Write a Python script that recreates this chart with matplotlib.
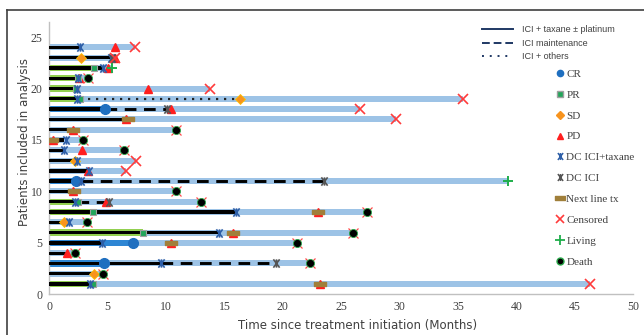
import matplotlib
matplotlib.use('Agg')
import matplotlib.pyplot as plt
import numpy as np
from matplotlib.path import Path
from matplotlib.lines import Line2D

# one row per patient (1 = bottom row)
patient = np.arange(1, 25)
follow_up = [46.3, 4.57, 22.3, 2.2, 21.2, 26.0, 3.2, 27.2, 13.0, 10.85, 39.3, 6.54,
             7.42, 6.4, 2.9, 10.85, 29.7, 26.6, 35.4, 13.8, 3.35, 5.4, 5.6, 7.3]
taxane_end = [3.48, 3.8, 9.6, 1.5, 4.5, 14.5, 1.65, 16.0, 2.2, 1.9, 2.6, 3.4,
              2.4, 1.28, 1.3, 1.9, 6.2, 4.8, 2.4, 2.3, 2.5, 4.6, 5.25, 2.6]

# ICI maintenance (dashed) and ICI + others (dotted) segments
maint_pt = [3, 9, 11, 18]
maint_start = [9.6, 2.4, 2.7, 4.8]
maint_end = [19.4, 4.9, 23.5, 10.05]
others_pt = [19]
others_start = [2.6]
others_end = [16.3]

# events: patient row, time in months
cr_pt = [3, 5, 11, 18]
cr_t = [4.68, 7.14, 2.26, 4.8]
pr_pt = [1, 6, 8, 9, 19, 20, 21, 22]
pr_t = [3.77, 8.05, 3.77, 2.43, 2.6, 2.3, 2.45, 3.8]
sd_pt = [2, 7, 13, 19, 23]
sd_t = [3.85, 1.26, 2.17, 16.3, 2.7]
pd_pt = [1, 4, 5, 6, 8, 9, 10, 12, 14, 15, 16, 17, 18, 20, 21, 22, 23, 24]
pd_t = [23.2, 1.49, 10.4, 15.7, 23.0, 4.85, 2.05, 3.34, 2.83, 0.34, 2.0, 6.6,
        10.4, 8.45, 2.55, 5.05, 5.6, 5.6]
dct_pt = [1, 3, 5, 6, 7, 8, 9, 11, 12, 13, 14, 15, 19, 20, 21, 22, 23, 24]
dct_t = [3.48, 9.6, 4.54, 14.5, 1.65, 16.0, 2.2, 2.7, 3.42, 2.4, 1.28, 1.4,
         2.4, 2.4, 2.5, 4.6, 5.3, 2.6]
dci_pt = [3, 9, 11, 18, 23]
dci_t = [19.4, 5.14, 23.5, 10.05, 5.4]
nxt_pt = [1, 5, 6, 8, 10, 15, 16, 17]
nxt_t = [23.2, 10.4, 15.7, 23.0, 2.1, 0.26, 2.0, 6.7]
cens_pt = [1, 12, 13, 17, 18, 19, 20, 23, 24]
cens_t = [46.3, 6.54, 7.42, 29.7, 26.6, 35.4, 13.8, 5.6, 7.3]
live_pt = [11, 22]
live_t = [39.3, 5.4]
death_pt = [2, 3, 4, 5, 6, 7, 8, 9, 10, 14, 15, 16, 21]
death_t = [4.57, 22.3, 2.2, 21.2, 26.0, 3.2, 27.2, 13.0, 10.85, 6.4, 2.9, 10.85, 3.35]

LIGHT = '#9dc3e6'
GREEN = '#92d050'
BLUE = '#2e86d4'
NAVY = '#1f3864'

ast = Path([(0, -1), (0, 1), (-0.75, -1), (0.75, 1), (-0.75, 1), (0.75, -1)],
           [Path.MOVETO, Path.LINETO, Path.MOVETO, Path.LINETO, Path.MOVETO, Path.LINETO])
bar_mk = Path([(-1, -0.35), (1, -0.35), (1, 0.35), (-1, 0.35), (-1, -0.35)],
              [Path.MOVETO, Path.LINETO, Path.LINETO, Path.LINETO, Path.CLOSEPOLY])

fig = plt.figure(figsize=(6.44, 3.35), dpi=100)
ax = fig.add_axes([49.3 / 644, 1 - 294.3 / 335, (633 - 49.3) / 644, (294.3 - 21.7) / 335])

ax.barh(patient, follow_up, height=0.58, color=LIGHT, zorder=1)
# response band under the first-line segment
for p, t in zip(pr_pt, pr_t):
  ax.barh(p, t, height=0.62, color=GREEN, zorder=2)
for p, t in zip(cr_pt, cr_t):
  ax.barh(p, t, height=0.62, color=BLUE, zorder=2)
ax.barh(patient, taxane_end, height=0.32, color='black', zorder=3)
for p, a, b in zip(maint_pt, maint_start, maint_end):
  ax.plot([a, b], [p, p], color='black', lw=2.1, ls=(0, (4, 2.6)), zorder=3,
          dash_capstyle='butt')
for p, a, b in zip(others_pt, others_start, others_end):
  ax.plot([a, b], [p, p], color='#222222', lw=1.6, ls=(0, (1, 2.6)), zorder=3,
          dash_capstyle='butt')

ax.plot(pd_t, pd_pt, ls='none', marker='^', ms=5.5, color='#ff1f1f', zorder=4)
ax.plot(nxt_t, nxt_pt, ls='none', marker=bar_mk, ms=8.5, color='#a07f3a', zorder=5)
ax.plot(cr_t, cr_pt, ls='none', marker='o', ms=7, color='#1f6fc0', zorder=5)
ax.plot(pr_t, pr_pt, ls='none', marker='s', ms=5, color='#22a55a',
        mec='#a0a0a0', mew=0.8, zorder=5)
ax.plot(sd_t, sd_pt, ls='none', marker='D', ms=5, color='#f7931e',
        mec='#ffc000', mew=0.6, zorder=5)
ax.plot(dct_t, dct_pt, ls='none', marker=ast, ms=6, mec='#2e5fa8',
        mew=1.2, zorder=6)
ax.plot(dci_t, dci_pt, ls='none', marker=ast, ms=6, mec='#555555',
        mew=1.2, zorder=6)
ax.plot(cens_t, cens_pt, ls='none', marker='x', ms=7.5, mec='#ff3b3b',
        mew=1.2, zorder=6)
ax.plot(live_t, live_pt, ls='none', marker='+', ms=7.5, mec='#1fae4b',
        mew=1.4, zorder=6)
ax.plot(death_t, death_pt, ls='none', marker='x', ms=7, mec='#ff4a4a',
        mew=0.9, zorder=6)
ax.plot(death_t, death_pt, ls='none', marker='o', ms=5.8, mfc='black',
        mec='#2aa84a', mew=0.6, zorder=7)

ax.set_xlim(0, 50)
ax.set_ylim(0, 26.5)
ax.set_xticks(range(0, 51, 5))
ax.set_yticks(range(0, 26, 5))
ax.tick_params(length=0, labelsize=8.5, pad=5, colors='#404040')
for lab in ax.get_xticklabels() + ax.get_yticklabels():
  lab.set_family('Liberation Serif')
for s in ['top', 'right']:
  ax.spines[s].set_visible(False)
for s in ['left', 'bottom']:
  ax.spines[s].set_color('#c0c0c0')
  ax.spines[s].set_linewidth(1)

fig.text(358 / 644, 1 - 325 / 335, 'Time since treatment initiation (Months)',
         ha='center', va='center', fontsize=8.5, color='#404040')
fig.text(25 / 644, 1 - 142 / 335, 'Patients included in analysis', rotation=90,
         ha='center', va='center', fontsize=8.5, color='#404040')

line_h = [Line2D([], [], color=NAVY, lw=1.4),
          Line2D([], [], color=NAVY, lw=1.4, ls=(0, (4, 2))),
          Line2D([], [], color=NAVY, lw=1.4, ls=(0, (1, 3)))]
leg1 = fig.legend(line_h, ['ICI + taxane ± platinum', 'ICI maintenance', 'ICI + others'],
                  loc='upper left', bbox_to_anchor=(482 / 644, 1 - 25 / 335),
                  frameon=False, prop={'family': 'Liberation Sans', 'size': 6.5},
                  handlelength=3.4, handletextpad=1.0, labelspacing=0.52,
                  borderpad=0, borderaxespad=0)

mk_h = [Line2D([], [], ls='none', marker='o', ms=4.5, color='#1f6fc0'),
        Line2D([], [], ls='none', marker='s', ms=4.5, color='#22a55a', mec='#a0a0a0'),
        Line2D([], [], ls='none', marker='D', ms=4, color='#f7931e'),
        Line2D([], [], ls='none', marker='^', ms=4.5, color='#ff1f1f'),
        Line2D([], [], ls='none', marker=ast, ms=5, mec='#2e5fa8', mew=1.1),
        Line2D([], [], ls='none', marker=ast, ms=5, mec='#555555', mew=1.1),
        Line2D([], [], ls='none', marker=bar_mk, ms=7, color='#a07f3a'),
        Line2D([], [], ls='none', marker='x', ms=6, mec='#ff3b3b', mew=1.2),
        Line2D([], [], ls='none', marker='+', ms=6.5, mec='#1fae4b', mew=1.3),
        Line2D([], [], ls='none', marker='o', ms=5, mfc='black', mec='#2aa84a')]
mk_l = ['CR', 'PR', 'SD', 'PD', 'DC ICI+taxane', 'DC ICI', 'Next line tx',
        'Censored', 'Living', 'Death']
leg2 = fig.legend(mk_h, mk_l, loc='upper left', bbox_to_anchor=(557 / 644, 1 - 69 / 335),
                  frameon=False, prop={'family': 'Liberation Serif', 'size': 8},
                  handlelength=0.6, handletextpad=0.25, labelspacing=1.0,
                  borderpad=0, borderaxespad=0)
for t in leg1.get_texts() + leg2.get_texts():
  t.set_color('#404040')

# outer frame of the figure
fig.add_artist(Line2D([7 / 644, 1], [1 - 10 / 335, 1 - 10 / 335], color='#404040',
                      lw=1.2, transform=fig.transFigure))
fig.add_artist(Line2D([7 / 644, 7 / 644], [0, 1 - 10 / 335], color='#404040',
                      lw=1.2, transform=fig.transFigure))

fig.savefig('out.png', dpi=100)
